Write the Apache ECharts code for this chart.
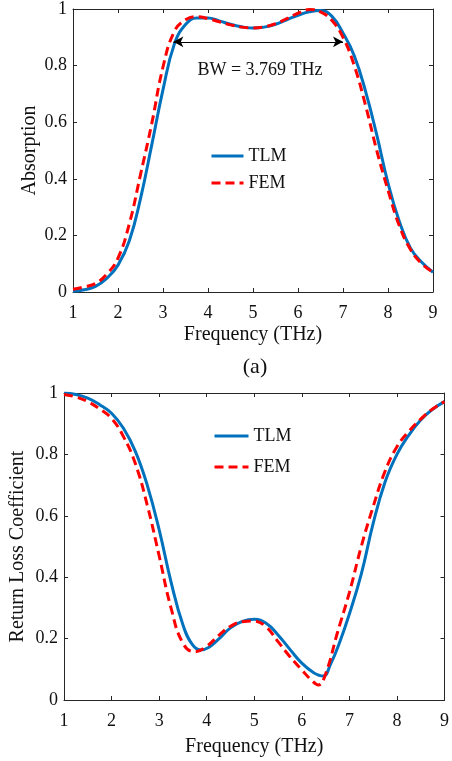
<!DOCTYPE html>
<html>
<head>
<meta charset="utf-8">
<script src="https://cdn.jsdelivr.net/npm/echarts@6/dist/echarts.min.js"></script>
<style>html,body{margin:0;padding:0;background:#fff;}#c{width:452px;height:761px;}</style>
</head>
<body>
<div id="c"></div>
<script>
// ---- Data ----
const xTicks = [1, 2, 3, 4, 5, 6, 7, 8, 9];
const yTicks = [0, 0.2, 0.4, 0.6, 0.8, 1];

const freqAbs = [1,1.25,1.5,1.75,2,2.25,2.5,2.75,3,3.25,3.5,3.75,4,4.25,4.5,4.75,5,5.25,5.5,5.75,6,6.25,6.5,6.75,7,7.25,7.5,7.75,8,8.25,8.5,8.75,9];
const absTLM = [0.003,0.008,0.02,0.048,0.095,0.18,0.33,0.52,0.715,0.875,0.945,0.968,0.968,0.958,0.946,0.937,0.933,0.936,0.946,0.962,0.978,0.99,0.995,0.975,0.915,0.835,0.71,0.555,0.385,0.25,0.155,0.105,0.07];
const absFEM = [0.01,0.018,0.03,0.063,0.12,0.24,0.415,0.595,0.795,0.92,0.962,0.973,0.966,0.955,0.944,0.936,0.933,0.937,0.948,0.966,0.985,0.998,0.99,0.96,0.9,0.8,0.66,0.5,0.36,0.235,0.15,0.1,0.07];

const freqRlTLM = [1,1.25,1.5,1.75,2,2.25,2.5,2.75,3,3.25,3.5,3.7,3.875,4.05,4.25,4.5,4.75,5,5.25,5.5,5.75,6,6.25,6.45,6.6,6.8,7,7.25,7.5,7.75,8,8.25,8.5,8.75,9];
const rlTLM = [1.0,0.995,0.983,0.962,0.934,0.885,0.81,0.7,0.555,0.385,0.245,0.18,0.163,0.172,0.198,0.235,0.256,0.263,0.25,0.212,0.165,0.12,0.089,0.078,0.115,0.19,0.28,0.41,0.575,0.71,0.8,0.863,0.912,0.947,0.972];
const freqRlFEM = [1,1.25,1.5,1.75,2,2.25,2.5,2.75,3,3.25,3.5,3.75,4,4.25,4.5,4.75,5,5.25,5.5,5.75,6,6.2,6.35,6.5,6.75,7,7.25,7.5,7.75,8,8.25,8.5,8.75,9];
const rlFEM = [0.995,0.987,0.972,0.948,0.917,0.858,0.77,0.635,0.47,0.3,0.185,0.157,0.175,0.21,0.24,0.255,0.257,0.238,0.19,0.141,0.098,0.065,0.049,0.085,0.22,0.35,0.5,0.63,0.745,0.825,0.875,0.915,0.948,0.972];

const bwStart = 3.23, bwEnd = 7.0, bwLevel = 0.884;
const bwText = 'BW = 3.769 THz';
const panelLabel = '(a)';

// ---- Chart ----
const pairs = (xs, ys) => xs.map((x, i) => [x, ys[i]]);
const FONT = '"Liberation Serif", "Times New Roman", serif';
const AX = '#262626';
const BLUE = '#0072BD', RED = '#FF0000';

function xAx(grid, pos, name, gap) {
  return {
    type: 'value', gridIndex: grid, position: pos, min: xTicks[0], max: xTicks[xTicks.length-1], interval: 1,
    name: name, nameLocation: 'middle', nameGap: gap, nameMoveOverlap: false,
    nameTextStyle: {fontFamily: FONT, fontSize: 20, color: '#111'},
    axisLine: {show: true, onZero: false, lineStyle: {color: AX, width: 1}},
    axisTick: {show: true, inside: true, length: 4, lineStyle: {color: AX}},
    axisLabel: {show: pos === 'bottom', margin: 12, fontFamily: FONT, fontSize: 18, color: '#111'},
    splitLine: {show: false}
  };
}
function yAx(grid, pos, name, gap) {
  return {
    type: 'value', gridIndex: grid, position: pos, min: yTicks[0], max: yTicks[yTicks.length-1], interval: 0.2,
    name: name, nameLocation: 'middle', nameGap: gap, nameMoveOverlap: false,
    nameTextStyle: {fontFamily: FONT, fontSize: 20, color: '#111'},
    axisLine: {show: true, onZero: false, lineStyle: {color: AX, width: 1}},
    axisTick: {show: true, inside: true, length: 4, lineStyle: {color: AX}},
    axisLabel: {show: pos === 'left', margin: 6, fontFamily: FONT, fontSize: 18, color: '#111'},
    splitLine: {show: false}
  };
}

const chart = echarts.init(document.getElementById('c'), null, {renderer: 'canvas'});
chart.setOption({
  backgroundColor: '#fff',
  animation: false,
  grid: [
    {left: 73, top: 7, width: 360, height: 285},
    {left: 63, top: 393, width: 387, height: 307}
  ],
  xAxis: [xAx(0,'bottom','Frequency (THz)',33), xAx(0,'top','',0), xAx(1,'bottom','Frequency (THz)',37), xAx(1,'top','',0)],
  yAxis: [yAx(0,'left','Absorption',33), yAx(0,'right','',0), yAx(1,'left','Return Loss Coefficient',36), yAx(1,'right','',0)],
  legend: [
    {left: 205, top: 142, orient: 'vertical', itemWidth: 32, itemHeight: 12, itemGap: 9,
     itemStyle: {opacity: 0}, lineStyle: {width: 3},
     data: ['TLM','FEM'], textStyle: {fontFamily: FONT, fontSize: 18, color: '#111'}, selectedMode: false},
    {left: 208, top: 422, orient: 'vertical', itemWidth: 34, itemHeight: 12, itemGap: 13,
     itemStyle: {opacity: 0}, lineStyle: {width: 3},
     data: ['TLM','FEM'], textStyle: {fontFamily: FONT, fontSize: 18, color: '#111'}, selectedMode: false}
  ],
  series: [
    {name: 'TLM', type: 'line', xAxisIndex: 0, yAxisIndex: 0, data: pairs(freqAbs, absTLM), smooth: 0.45,
     showSymbol: false, symbol: 'none', lineStyle: {color: BLUE, width: 3}, itemStyle: {color: BLUE},
     markLine: {silent: true, symbol: ['arrow','arrow'], symbolSize: [8, 10], animation: false,
       lineStyle: {color: '#000', width: 1.2, type: 'solid'}, label: {show: false},
       data: [[{coord: [bwStart, bwLevel]}, {coord: [bwEnd, bwLevel]}]]}},
    {name: 'FEM', type: 'line', xAxisIndex: 0, yAxisIndex: 0, data: pairs(freqAbs, absFEM), smooth: 0.45,
     showSymbol: false, symbol: 'none', lineStyle: {color: RED, width: 3, type: [9, 5]}, itemStyle: {color: RED}},
    {name: 'TLM', type: 'line', xAxisIndex: 2, yAxisIndex: 2, data: pairs(freqRlTLM, rlTLM), smooth: 0.45,
     showSymbol: false, symbol: 'none', lineStyle: {color: BLUE, width: 3}, itemStyle: {color: BLUE}},
    {name: 'FEM', type: 'line', xAxisIndex: 2, yAxisIndex: 2, data: pairs(freqRlFEM, rlFEM), smooth: 0.45,
     showSymbol: false, symbol: 'none', lineStyle: {color: RED, width: 3, type: [9, 5]}, itemStyle: {color: RED}}
  ],
  graphic: [
    {type: 'text', x: 260, y: 70, style: {text: bwText, fontFamily: FONT, fontSize: 18, fill: '#111', align: 'center', verticalAlign: 'middle'}},
    {type: 'text', x: 255, y: 367, style: {text: panelLabel, fontFamily: FONT, fontSize: 22, fill: '#111', align: 'center', verticalAlign: 'middle'}}
  ]
});
</script>
</body>
</html>
